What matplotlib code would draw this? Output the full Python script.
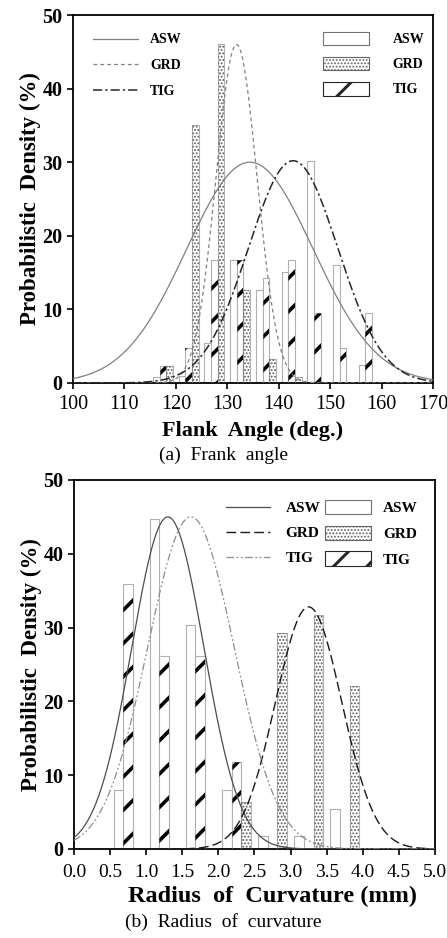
import numpy as np
import matplotlib.pyplot as plt
from matplotlib.patches import Patch
from matplotlib.lines import Line2D

plt.rcParams['font.family'] = ['Liberation Serif', 'DejaVu Serif']
plt.rcParams['hatch.linewidth'] = 0.9

# ---- (a) flank angle, 5 deg bins ----
flank_bins = [117.5, 122.5, 127.5, 132.5, 137.5, 142.5, 147.5, 152.5, 157.5]
flank_asw = [0.8, 1.0, 5.5, 16.7, 12.7, 15.1, 30.2, 16.0, 2.4]
flank_tig = [2.3, 4.8, 16.7, 16.7, 14.2, 16.7, 9.5, 4.8, 9.5]
flank_grd = [2.3, 35.0, 46.0, 12.7, 3.2, 0.8, 0.0, 0.0, 0.0]
# normal fits: (mean, std, peak)
flank_fit_asw = (134.4, 12.3, 30.0)
flank_fit_grd = (131.8, 4.0, 46.0)
flank_fit_tig = (142.8, 8.7, 30.2)

# ---- (b) radius of curvature, 0.5 mm bins ----
rad_bins = [0.75, 1.25, 1.75, 2.25, 2.75, 3.25, 3.75]
rad_asw = [8.0, 44.7, 30.4, 8.0, 1.7, 1.8, 5.4]
rad_tig = [35.9, 26.2, 26.2, 11.8, 0.0, 0.0, 0.0]
rad_grd = [0.0, 0.0, 0.0, 6.4, 29.3, 31.7, 22.1]
rad_fit_asw = (1.30, 0.50, 45.0)
rad_fit_grd = (3.25, 0.46, 32.8)
rad_fit_tig = (1.62, 0.60, 45.0)

labels = ['ASW', 'GRD', 'TIG']


def gauss(x, fit):
    mu, sd, peak = fit
    return peak * np.exp(-(x - mu) ** 2 / (2 * sd ** 2))


def set_hlw(patches, lw):
    for p in patches:
        if hasattr(p, 'set_hatch_linewidth'):
            p.set_hatch_linewidth(lw)


def draw_bars(ax, bins, asw, tig, grd, w):
    b = np.array(bins)
    edge = dict(edgecolor='0.45', linewidth=0.8, linestyle=(0, (1, 0.8)))
    ax.bar(b - w, asw, w, facecolor='white', **edge, zorder=2)
    # dotted fill for GRD
    ax.bar(b + w, grd, w, facecolor='white', edgecolor='0.35', linewidth=0,
           hatch='.....', zorder=2)
    ax.bar(b + w, grd, w, fill=False, **edge, zorder=3)
    # thick slashes for TIG
    h = ax.bar(b, tig, w, facecolor='white', edgecolor='black', linewidth=0,
               hatch='/', zorder=2)
    set_hlw(h, 2.6)
    ax.bar(b, tig, w, fill=False, **edge, zorder=3)


def style_axis(ax, xlabel, xt_size, xl_size, xpad, tpad):
    for s in ax.spines.values():
        s.set_linewidth(1.3)
    ax.tick_params(direction='out', length=4, width=1.2)
    ax.tick_params(axis='x', labelsize=xt_size, pad=tpad)
    ax.set_ylim(0, 50)
    ax.set_yticks([0, 10, 20, 30, 40, 50])
    for t in ax.get_yticklabels():
        t.set_fontweight('bold')
        t.set_fontsize(14.5)
    ax.set_xlabel(xlabel, fontsize=xl_size, fontweight='bold', labelpad=xpad)
    ax.set_ylabel('Probabilistic  Density (%)', fontsize=16.5,
                  fontweight='bold', labelpad=1)


def legends(ax, styles, fs, line_xy, patch_xy, hl, hpad, ppad, row_px):
    fpx = fs * 100 / 72
    ls = row_px / fpx - 1.0
    lines = [Line2D([], [], color=c, lw=lw, linestyle=st) for c, lw, st in styles]
    l1 = ax.legend(lines, labels, loc='upper left', bbox_to_anchor=line_xy,
                   frameon=False, borderpad=0, borderaxespad=0,
                   handlelength=hl, handletextpad=hpad, labelspacing=ls,
                   prop=dict(size=fs, weight='bold'))
    ax.add_artist(l1)
    hh = 16.0 / fpx
    p_asw = Patch(facecolor='white', edgecolor='0.45', linewidth=0.8)
    p_grd = Patch(facecolor='white', edgecolor='0.4', linewidth=0.8, hatch='.....')
    p_tig = Patch(facecolor='white', edgecolor='0.15', linewidth=0.8, hatch='/')
    l2 = ax.legend([p_asw, p_grd, p_tig], labels, loc='upper left',
                   bbox_to_anchor=patch_xy, frameon=False, borderpad=0,
                   borderaxespad=0, handlelength=46.0 / fpx, handleheight=hh,
                   handletextpad=ppad, labelspacing=row_px / fpx - hh,
                   prop=dict(size=fs, weight='bold'))
    set_hlw(l2.get_patches()[2:], 2.2)


fig = plt.figure(figsize=(4.47, 9.38), dpi=100)

# ---------- (a) ----------
ax1 = fig.add_axes([0.1633, 0.5917, 0.8054, 0.3923])
draw_bars(ax1, flank_bins, flank_asw, flank_tig, flank_grd, 1.3)
xa = np.linspace(100, 170, 400)
ax1.plot(xa, gauss(xa, flank_fit_asw), color='0.5', lw=0.9, zorder=4)
ax1.plot(xa, gauss(xa, flank_fit_grd), color='0.5', lw=0.9,
         linestyle=(0, (3, 2.5)), zorder=4)
ax1.plot(xa, gauss(xa, flank_fit_tig), color='0.15', lw=1.1,
         linestyle=(0, (6, 2, 1.5, 2)), zorder=4)
ax1.set_xlim(100, 170)
ax1.set_xticks(np.arange(100, 171, 10))
style_axis(ax1, 'Flank  Angle (deg.)', 14.5, 16, 5, 5)
legends(ax1, [('0.5', 0.9, '-'), ('0.5', 0.9, (0, (3, 2.5))),
              ('0.15', 1.1, (0, (6, 2, 1.5, 2)))],
        10, (0.056, 0.95), (0.694, 0.955), 3.2, 0.9, 1.7, 26.5)
fig.text(0.5, 1 - 455 / 938, '(a)  Frank  angle', ha='center', va='center',
         fontsize=14)

# ---------- (b) ----------
ax2 = fig.add_axes([0.1655, 0.0949, 0.8076, 0.3934])
draw_bars(ax2, rad_bins, rad_asw, rad_tig, rad_grd, 0.135)
xb = np.linspace(0, 5, 400)
ax2.plot(xb, gauss(xb, rad_fit_asw), color='0.3', lw=0.9, zorder=4)
ax2.plot(xb, gauss(xb, rad_fit_grd), color='0.1', lw=1.0,
         linestyle=(0, (7, 3)), zorder=4)
ax2.plot(xb, gauss(xb, rad_fit_tig), color='0.55', lw=0.9,
         linestyle=(0, (6, 2, 1.5, 2, 1.5, 2)), zorder=4)
ax2.set_xlim(0, 5)
ax2.set_xticks(np.arange(0, 5.01, 0.5))
ax2.set_xticklabels([f'{v:.1f}' for v in np.arange(0, 5.01, 0.5)])
style_axis(ax2, 'Radius  of  Curvature (mm)', 14, 17.5, 2, 7)
ax2.xaxis.set_label_coords(0.55, -0.1)
legends(ax2, [('0.3', 0.9, '-'), ('0.1', 1.0, (0, (7, 3))),
              ('0.55', 0.9, (0, (6, 2, 1.5, 2, 1.5, 2)))],
        11, (0.421, 0.942), (0.695, 0.946), 2.9, 1.0, 0.8, 26.5)
fig.text(0.5, 1 - 922 / 938, '(b)  Radius  of  curvature', ha='center',
         va='center', fontsize=14)

fig.savefig('out.png', dpi=100)
